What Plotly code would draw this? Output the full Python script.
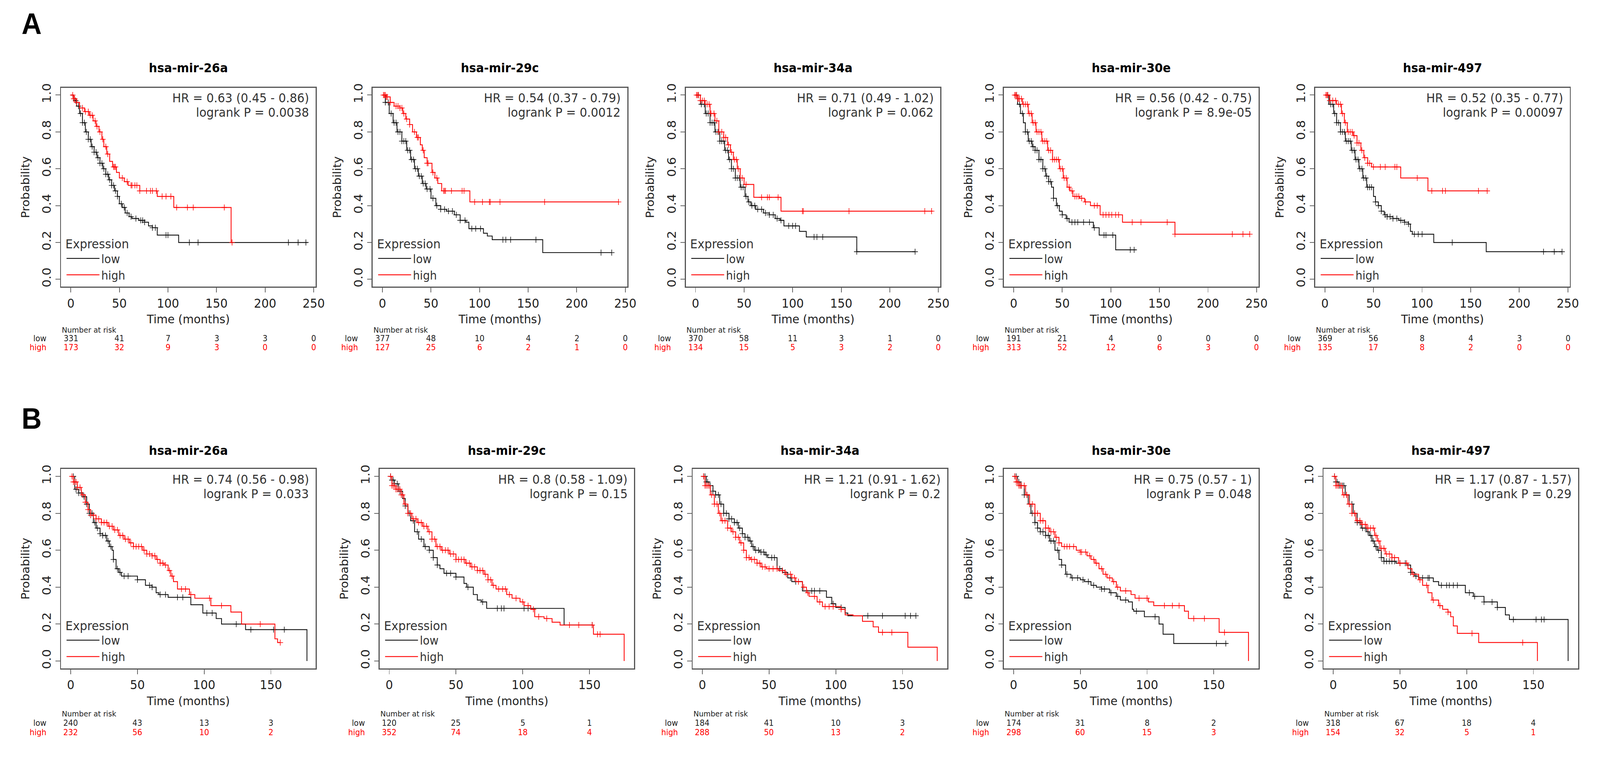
import plotly.graph_objects as go

# ---- figure text ----
MIRNAS = ['hsa-mir-26a', 'hsa-mir-29c', 'hsa-mir-34a', 'hsa-mir-30e', 'hsa-mir-497']
HR_A = ['HR = 0.63 (0.45 - 0.86)', 'HR = 0.54 (0.37 - 0.79)', 'HR = 0.71 (0.49 - 1.02)',
        'HR = 0.56 (0.42 - 0.75)', 'HR = 0.52 (0.35 - 0.77)']
P_A = ['logrank P = 0.0038', 'logrank P = 0.0012', 'logrank P = 0.062',
       'logrank P = 8.9e-05', 'logrank P = 0.00097']
HR_B = ['HR = 0.74 (0.56 - 0.98)', 'HR = 0.8 (0.58 - 1.09)', 'HR = 1.21 (0.91 - 1.62)',
        'HR = 0.75 (0.57 - 1)', 'HR = 1.17 (0.87 - 1.57)']
P_B = ['logrank P = 0.033', 'logrank P = 0.15', 'logrank P = 0.2',
       'logrank P = 0.048', 'logrank P = 0.29']

# ---- number at risk ----
RISK_T_A = [0, 50, 100, 150, 200, 250]
RISK_T_B = [0, 50, 100, 150]
RISK_A_LOW = [[331, 41, 7, 3, 3, 0], [377, 48, 10, 4, 2, 0], [370, 58, 11, 3, 1, 0],
              [191, 21, 4, 0, 0, 0], [369, 56, 8, 4, 3, 0]]
RISK_A_HIGH = [[173, 32, 9, 3, 0, 0], [127, 25, 6, 2, 1, 0], [134, 15, 5, 3, 2, 0],
               [313, 52, 12, 6, 3, 0], [135, 17, 8, 2, 0, 0]]
RISK_B_LOW = [[240, 43, 13, 3], [120, 25, 5, 1], [184, 41, 10, 3], [174, 31, 8, 2], [318, 67, 18, 4]]
RISK_B_HIGH = [[232, 56, 10, 2], [352, 74, 18, 4], [288, 50, 13, 2], [298, 60, 15, 3], [154, 32, 5, 1]]

# ---- survival curves (time in months, probability), censor times ----
A1_LOW_T = [0, 3, 6, 9, 12, 15, 18, 21, 24, 27, 30, 33, 36, 39, 42, 45, 48, 50, 53, 56, 60, 63, 70, 76, 80, 84, 89, 111, 244]
A1_LOW_S = [1, .97, .94, .90, .85, .80, .76, .72, .69, .66, .63, .60, .57, .54, .51, .48, .45, .41, .39, .36, .34, .33, .32, .31, .29, .28, .24, .20, .20]
A1_LOW_C = [5, 8, 10, 12, 14, 16, 18, 20, 22, 24, 26, 28, 30, 32, 34, 36, 38, 40, 42, 44, 46, 48, 52, 55, 58, 62, 67, 72, 74, 76, 84, 87, 98, 100, 122, 131, 224, 234, 242]
A1_HIGH_T = [0, 3, 6, 9, 14, 19, 23, 26, 29, 32, 34, 37, 40, 43, 47, 50, 55, 59, 71, 89, 106, 165, 166]
A1_HIGH_S = [1, .98, .96, .93, .91, .89, .86, .83, .80, .76, .72, .68, .64, .61, .58, .55, .53, .51, .48, .45, .39, .20, .20]
A1_HIGH_C = [2, 3, 4, 6, 12, 15, 18, 20, 22, 25, 27, 30, 33, 36, 38, 44, 45, 46, 53, 58, 62, 63, 66, 68, 71, 78, 82, 84, 88, 94, 98, 103, 109, 120, 126, 158, 166]

A2_LOW_T = [0, 3, 7, 11, 15, 20, 25, 29, 33, 37, 41, 45, 50, 55, 60, 66, 74, 80, 86, 89, 104, 108, 113, 165, 236]
A2_LOW_S = [1, .96, .90, .85, .80, .75, .70, .65, .60, .56, .52, .49, .44, .40, .38, .37, .35, .32, .31, .275, .25, .235, .215, .145, .145]
A2_LOW_C = [3, 6, 9, 12, 14, 16, 18, 20, 22, 24, 26, 28, 30, 32, 34, 36, 38, 40, 42, 44, 46, 49, 52, 56, 60, 64, 68, 72, 76, 80, 85, 92, 96, 101, 124, 127, 132, 158, 225, 236]
A2_HIGH_T = [0, 4, 8, 12, 18, 21, 24, 28, 31, 35, 39, 41, 43, 46, 51, 54, 57, 61, 90, 243]
A2_HIGH_S = [1, .99, .96, .94, .93, .90, .87, .84, .80, .77, .73, .70, .66, .63, .58, .55, .52, .48, .42, .42]
A2_HIGH_C = [1, 2, 3, 4, 5, 8, 14, 16, 18, 20, 22, 25, 28, 33, 36, 37, 42, 46, 47, 52, 56, 63, 64, 65, 71, 82, 84, 95, 103, 110, 111, 121, 167, 243]

A3_LOW_T = [0, 5, 10, 15, 20, 25, 30, 34, 37, 41, 46, 51, 54, 57, 62, 70, 76, 82, 87, 91, 107, 114, 166, 226]
A3_LOW_S = [1, .95, .90, .85, .80, .75, .70, .65, .60, .55, .50, .45, .42, .40, .38, .36, .35, .33, .32, .29, .26, .23, .15, .15]
A3_LOW_C = [3, 6, 9, 11, 13, 15, 17, 19, 21, 23, 25, 27, 29, 31, 33, 35, 37, 39, 41, 43, 45, 47, 49, 52, 55, 58, 61, 64, 68, 72, 76, 80, 84, 88, 96, 100, 103, 122, 125, 131, 166, 226]
A3_HIGH_T = [0, 5, 10, 15, 20, 24, 29, 33, 36, 39, 43, 46, 50, 60, 88, 244]
A3_HIGH_S = [1, .97, .95, .90, .86, .80, .77, .73, .69, .65, .60, .55, .515, .445, .37, .37]
A3_HIGH_C = [1, 2, 3, 5, 7, 9, 12, 14, 16, 19, 22, 24, 27, 29, 31, 34, 37, 40, 42, 44, 48, 52, 68, 74, 76, 85, 110, 111, 158, 236, 243]

A4_LOW_T = [0, 4, 7, 10, 12, 15, 19, 22, 26, 30, 33, 36, 39, 41, 44, 47, 50, 54, 57, 82, 88, 105, 126]
A4_LOW_S = [1, .95, .90, .85, .80, .75, .72, .70, .65, .60, .56, .53, .50, .44, .40, .37, .35, .33, .31, .28, .24, .16, .16]
A4_LOW_C = [3, 6, 9, 12, 14, 16, 18, 20, 22, 24, 26, 28, 30, 32, 34, 36, 38, 41, 45, 50, 55, 60, 63, 66, 72, 78, 83, 93, 95, 102, 120, 124]
A4_HIGH_T = [0, 4, 9, 15, 19, 23, 29, 35, 40, 47, 51, 55, 58, 61, 68, 73, 79, 89, 112, 166, 243]
A4_HIGH_S = [1, .98, .95, .90, .85, .80, .75, .70, .65, .60, .55, .50, .48, .45, .44, .42, .40, .35, .31, .245, .245]
A4_HIGH_C = [1, 2, 3, 4, 5, 6, 8, 10, 12, 14, 16, 18, 20, 22, 24, 26, 28, 30, 32, 34, 36, 38, 40, 42, 44, 46, 48, 50, 52, 54, 57, 60, 63, 65, 67, 70, 74, 83, 86, 92, 95, 98, 101, 105, 108, 122, 131, 158, 166, 225, 236, 243]

A5_LOW_T = [0, 4, 9, 12, 16, 21, 27, 31, 35, 39, 43, 50, 52, 55, 58, 61, 64, 70, 76, 82, 86, 88, 90, 112, 166, 244]
A5_LOW_S = [1, .95, .90, .85, .80, .75, .70, .65, .60, .55, .50, .45, .42, .40, .37, .35, .34, .33, .32, .31, .30, .26, .245, .20, .15, .15]
A5_LOW_C = [3, 6, 8, 10, 12, 14, 16, 18, 20, 22, 24, 26, 28, 30, 32, 34, 36, 38, 40, 42, 44, 46, 48, 52, 55, 58, 62, 64, 67, 70, 74, 78, 82, 86, 92, 96, 100, 131, 225, 236, 244]
A5_HIGH_T = [0, 5, 12, 17, 20, 23, 29, 33, 37, 40, 44, 48, 78, 106, 167]
A5_HIGH_S = [1, .97, .95, .90, .85, .80, .78, .74, .70, .66, .63, .61, .55, .48, .48]
A5_HIGH_C = [1, 2, 3, 5, 8, 11, 14, 16, 18, 21, 24, 26, 28, 30, 33, 35, 38, 41, 44, 46, 50, 57, 62, 72, 74, 95, 110, 121, 124, 158, 167]

B1_LOW_T = [0, 3, 6, 9, 12, 14, 17, 19, 22, 24, 27, 29, 31, 32, 34, 36, 38, 50, 56, 61, 64, 66, 73, 90, 99, 109, 113, 131, 177]
B1_LOW_S = [1, .93, .91, .89, .85, .80, .75, .72, .69, .68, .65, .62, .60, .55, .50, .48, .46, .44, .41, .40, .37, .36, .345, .305, .26, .23, .20, .17, 0]
B1_LOW_C = [2, 4, 6, 8, 10, 12, 14, 16, 18, 20, 22, 24, 26, 28, 30, 32, 35, 37, 40, 43, 50, 59, 61, 67, 71, 80, 84, 102, 106, 124, 135, 152, 160]
B1_HIGH_T = [0, 2, 5, 8, 11, 13, 15, 19, 23, 28, 32, 36, 40, 44, 47, 54, 57, 61, 64, 67, 70, 73, 75, 77, 80, 89, 93, 105, 120, 128, 153, 155, 157]
B1_HIGH_S = [1, .97, .94, .90, .86, .82, .79, .77, .75, .73, .71, .68, .66, .64, .62, .60, .58, .57, .55, .53, .52, .49, .46, .43, .39, .36, .34, .30, .265, .20, .12, .10, .10]
B1_HIGH_C = [1, 2, 3, 4, 5, 7, 9, 11, 13, 15, 17, 19, 21, 23, 25, 27, 29, 31, 33, 35, 37, 39, 41, 43, 45, 47, 49, 51, 53, 55, 57, 59, 61, 63, 65, 67, 69, 71, 74, 76, 83, 86, 90, 104, 113, 142, 157]

B2_LOW_T = [0, 2, 4, 7, 10, 12, 14, 16, 19, 22, 26, 30, 33, 36, 38, 41, 50, 56, 58, 63, 66, 69, 73, 131, 152]
B2_LOW_S = [1, .98, .96, .92, .88, .84, .80, .76, .70, .66, .62, .60, .56, .52, .50, .475, .455, .42, .40, .36, .33, .32, .285, .195, .195]
B2_LOW_C = [1, 2, 3, 4, 6, 8, 12, 15, 18, 21, 24, 27, 30, 33, 36, 43, 46, 50, 59, 70, 81, 84, 86, 101, 104, 152]
B2_HIGH_T = [0, 2, 5, 9, 11, 14, 17, 21, 25, 29, 32, 35, 39, 45, 50, 57, 61, 66, 71, 74, 77, 80, 88, 92, 98, 101, 106, 109, 116, 122, 128, 153, 176]
B2_HIGH_S = [1, .95, .93, .90, .85, .80, .77, .75, .73, .70, .66, .62, .60, .58, .55, .53, .51, .49, .47, .44, .41, .39, .36, .34, .32, .30, .28, .24, .23, .21, .195, .145, 0]
B2_HIGH_C = [1, 2, 3, 4, 5, 6, 7, 8, 9, 10, 12, 14, 16, 18, 20, 22, 24, 26, 28, 30, 32, 34, 36, 38, 40, 42, 44, 46, 48, 50, 52, 54, 56, 58, 60, 62, 64, 66, 68, 70, 72, 74, 76, 78, 82, 85, 87, 90, 95, 100, 104, 108, 112, 118, 135, 142, 152, 156, 158]

B3_LOW_T = [0, 3, 5, 8, 10, 13, 16, 20, 24, 27, 30, 32, 35, 37, 39, 43, 47, 49, 56, 60, 64, 67, 75, 93, 97, 100, 107, 109, 160]
B3_LOW_S = [1, .97, .95, .92, .90, .85, .80, .77, .75, .72, .69, .67, .65, .62, .60, .59, .575, .56, .50, .48, .45, .43, .38, .345, .31, .29, .26, .245, .245]
B3_LOW_C = [1, 2, 3, 4, 6, 8, 10, 12, 14, 16, 18, 20, 22, 24, 26, 28, 30, 32, 34, 36, 38, 40, 42, 44, 46, 48, 52, 54, 58, 62, 66, 70, 82, 84, 88, 98, 104, 124, 135, 152, 156, 160]
B3_HIGH_T = [0, 2, 6, 9, 12, 14, 19, 22, 25, 28, 31, 33, 36, 41, 44, 48, 57, 62, 67, 70, 75, 78, 80, 86, 90, 104, 107, 113, 120, 128, 132, 154, 176]
B3_HIGH_S = [1, .95, .90, .85, .80, .76, .72, .70, .67, .64, .60, .56, .55, .53, .51, .50, .49, .47, .45, .43, .40, .37, .35, .32, .295, .28, .25, .245, .215, .185, .155, .075, 0]
B3_HIGH_C = [1, 2, 3, 4, 5, 7, 9, 11, 13, 15, 17, 19, 21, 23, 25, 27, 29, 31, 33, 35, 37, 39, 41, 43, 45, 47, 50, 53, 56, 60, 63, 66, 69, 72, 76, 79, 84, 88, 92, 95, 98, 104, 135, 142]

B4_LOW_T = [0, 3, 5, 8, 11, 13, 16, 18, 20, 24, 27, 31, 34, 36, 39, 43, 50, 53, 58, 62, 66, 72, 77, 80, 86, 89, 90, 98, 109, 112, 120, 160]
B4_LOW_S = [1, .97, .95, .90, .85, .80, .75, .72, .70, .68, .65, .60, .55, .52, .47, .45, .44, .43, .41, .40, .39, .37, .35, .33, .32, .28, .27, .24, .20, .145, .095, .095]
B4_LOW_C = [1, 2, 3, 4, 5, 6, 8, 10, 12, 14, 16, 18, 20, 22, 24, 26, 28, 30, 33, 36, 40, 44, 48, 52, 56, 60, 66, 68, 73, 78, 84, 92, 106, 152, 159]
B4_HIGH_T = [0, 2, 4, 9, 12, 16, 20, 24, 27, 31, 34, 36, 47, 50, 55, 58, 61, 64, 67, 70, 74, 77, 80, 88, 91, 101, 105, 128, 131, 154, 176]
B4_HIGH_S = [1, .97, .95, .90, .85, .80, .76, .72, .70, .67, .64, .62, .60, .59, .57, .55, .53, .50, .47, .45, .43, .40, .38, .36, .34, .32, .30, .27, .23, .155, 0]
B4_HIGH_C = [1, 2, 3, 4, 5, 6, 8, 10, 12, 14, 16, 18, 20, 22, 24, 26, 28, 30, 32, 34, 38, 40, 42, 45, 50, 51, 54, 57, 60, 62, 66, 69, 72, 75, 78, 84, 94, 100, 113, 119, 124, 135, 143, 158]

B5_LOW_T = [0, 2, 4, 9, 12, 15, 18, 21, 25, 27, 29, 31, 33, 36, 38, 47, 55, 58, 61, 64, 75, 79, 99, 105, 113, 123, 129, 132, 176]
B5_LOW_S = [1, .97, .95, .90, .85, .80, .75, .72, .70, .68, .65, .62, .60, .56, .54, .53, .52, .48, .46, .45, .43, .41, .37, .35, .32, .29, .25, .225, 0]
B5_LOW_C = [1, 2, 3, 4, 5, 6, 7, 8, 10, 12, 14, 16, 18, 20, 22, 24, 26, 28, 30, 32, 34, 36, 38, 40, 42, 44, 46, 50, 54, 58, 62, 67, 71, 72, 81, 85, 87, 90, 93, 102, 106, 113, 119, 123, 135, 152, 156, 158]
B5_HIGH_T = [0, 2, 7, 11, 14, 17, 21, 25, 31, 33, 35, 39, 44, 49, 56, 59, 64, 67, 71, 74, 79, 82, 86, 88, 90, 93, 109, 153]
B5_HIGH_S = [1, .95, .90, .85, .80, .76, .74, .72, .68, .65, .61, .58, .56, .53, .50, .47, .44, .41, .37, .33, .30, .28, .265, .24, .19, .15, .10, 0]
B5_HIGH_C = [1, 2, 3, 4, 6, 8, 10, 12, 14, 16, 18, 20, 22, 24, 26, 28, 30, 32, 34, 36, 38, 40, 42, 44, 46, 50, 55, 60, 65, 70, 75, 80, 86, 104, 142]

W, H = 4375, 2008
FONT = 'DejaVu Sans'
TXT = '#222222'
GREY_TXT = '#333333'
RED = '#ff0000'
BOX_W = 700

panels = [
    dict(low=(A1_LOW_T, A1_LOW_S, A1_LOW_C), high=(A1_HIGH_T, A1_HIGH_S, A1_HIGH_C)),
    dict(low=(A2_LOW_T, A2_LOW_S, A2_LOW_C), high=(A2_HIGH_T, A2_HIGH_S, A2_HIGH_C)),
    dict(low=(A3_LOW_T, A3_LOW_S, A3_LOW_C), high=(A3_HIGH_T, A3_HIGH_S, A3_HIGH_C)),
    dict(low=(A4_LOW_T, A4_LOW_S, A4_LOW_C), high=(A4_HIGH_T, A4_HIGH_S, A4_HIGH_C)),
    dict(low=(A5_LOW_T, A5_LOW_S, A5_LOW_C), high=(A5_HIGH_T, A5_HIGH_S, A5_HIGH_C)),
    dict(low=(B1_LOW_T, B1_LOW_S, B1_LOW_C), high=(B1_HIGH_T, B1_HIGH_S, B1_HIGH_C)),
    dict(low=(B2_LOW_T, B2_LOW_S, B2_LOW_C), high=(B2_HIGH_T, B2_HIGH_S, B2_HIGH_C)),
    dict(low=(B3_LOW_T, B3_LOW_S, B3_LOW_C), high=(B3_HIGH_T, B3_HIGH_S, B3_HIGH_C)),
    dict(low=(B4_LOW_T, B4_LOW_S, B4_LOW_C), high=(B4_HIGH_T, B4_HIGH_S, B4_HIGH_C)),
    dict(low=(B5_LOW_T, B5_LOW_S, B5_LOW_C), high=(B5_HIGH_T, B5_HIGH_S, B5_HIGH_C)),
]
for k in range(5):
    panels[k].update(left=[168, 1025, 1886, 2761, 3617][k], top=215, bottom=728, title_y=164,
                     xrange=[-10, 252], risk_t=RISK_T_A, risk_low=RISK_A_LOW[k],
                     risk_high=RISK_A_HIGH[k], title=MIRNAS[k], hr=HR_A[k], p=P_A[k],
                     risk_dy=(111, 134, 157))
    panels[k + 5].update(left=[168, 1044, 1905, 2761, 3640][k], top=1198, bottom=1712, title_y=1150,
                         xrange=[-7.2, 183.5], risk_t=RISK_T_B, risk_low=RISK_B_LOW[k],
                         risk_high=RISK_B_HIGH[k], title=MIRNAS[k], hr=HR_B[k], p=P_B[k],
                         risk_dy=(117, 141, 165))


def fx(x):
    return x / W


def fy(y):
    return 1 - y / H


def surv_at(ts, ss, t):
    s = ss[0]
    for ti, si in zip(ts, ss):
        if ti <= t:
            s = si
    return s


def label(x, y, text, size, color, xanchor='center', xref='paper', family=FONT):
    return dict(x=x, y=y, xref=xref, yref='paper', text=text, showarrow=False,
                xanchor=xanchor, yanchor='middle', font=dict(family=family, size=size, color=color))


fig = go.Figure()
layout = {}
annotations = []

for i, p in enumerate(panels):
    n = i + 1
    sfx = '' if n == 1 else str(n)
    xa, ya, lg = 'x' + sfx, 'y' + sfx, 'legend' + sfx
    left, right = p['left'], p['left'] + BOX_W
    top, bottom = p['top'], p['bottom']

    for name, color in (('low', '#111111'), ('high', RED)):
        ts, ss, cs = p[name]
        fig.add_trace(go.Scatter(x=ts, y=ss, mode='lines', line=dict(color=color, width=2.2, shape='hv'),
                                 name=name, legend=lg, xaxis=xa, yaxis=ya, hoverinfo='skip'))
        fig.add_trace(go.Scatter(x=cs, y=[surv_at(ts, ss, c) for c in cs], mode='markers',
                                 marker=dict(symbol='cross-thin', size=11, line=dict(width=1.6, color=color)),
                                 showlegend=False, xaxis=xa, yaxis=ya, hoverinfo='skip'))

    layout['xaxis' + sfx] = dict(
        domain=[fx(left), fx(right)], anchor=ya, range=p['xrange'], tickvals=p['risk_t'],
        ticks='outside', ticklen=12, tickwidth=2, tickcolor='#666', showline=True, mirror=True,
        linecolor='#555', linewidth=3, showgrid=False, zeroline=False,
        tickfont=dict(family=FONT, size=32, color=TXT),
        title=dict(text='Time (months)', font=dict(family=FONT, size=31, color=TXT), standoff=12))
    layout['yaxis' + sfx] = dict(
        domain=[fy(bottom), fy(top)], anchor=xa, range=[-0.04, 1.04],
        tickvals=[0, 0.2, 0.4, 0.6, 0.8, 1.0], ticktext=['0.0', '0.2', '0.4', '0.6', '0.8', '1.0'],
        tickangle=-90, ticks='outside', ticklen=12, tickwidth=2, tickcolor='#666', showline=True,
        mirror=True, linecolor='#555', linewidth=3, showgrid=False, zeroline=False,
        tickfont=dict(family=FONT, size=32, color=TXT),
        title=dict(text='Probability', font=dict(family=FONT, size=30, color=TXT), standoff=20))
    layout[lg] = dict(
        x=fx(left + 10), y=fy(bottom - 4), xanchor='left', yanchor='bottom', bgcolor='rgba(0,0,0,0)',
        title=dict(text='Expression', font=dict(family=FONT, size=32, color=GREY_TXT)),
        font=dict(family=FONT, size=30, color=GREY_TXT), itemwidth=90, tracegroupgap=0)

    annotations.append(label(fx((left + right) / 2), fy(p['title_y']), '<b>' + p['title'] + '</b>', 32, '#000'))
    annotations.append(label(fx(right - 16), fy(top + 27), p['hr'], 32, GREY_TXT, xanchor='right'))
    annotations.append(label(fx(right - 16), fy(top + 64), p['p'], 32, GREY_TXT, xanchor='right'))

    # number at risk table
    d_nar, d_low, d_high = p['risk_dy']
    annotations.append(label(fx(left), fy(bottom + d_nar), 'Number at risk', 20, TXT, xanchor='left'))
    for lab, row, dy, col in (('low', p['risk_low'], d_low, TXT), ('high', p['risk_high'], d_high, RED)):
        annotations.append(label(fx(left - 38), fy(bottom + dy), lab, 21, col, xanchor='right'))
        for t, v in zip(p['risk_t'], row):
            annotations.append(label(t, fy(bottom + dy), str(v), 21, col, xref=xa))

for lab, y in (('A', 50), ('B', 1067)):
    annotations.append(label(fx(87), fy(y), '<b>' + lab + '</b>', 76, '#000', family='Liberation Sans'))

fig.update_layout(width=W, height=H, margin=dict(l=0, r=0, t=0, b=0), paper_bgcolor='white',
                  plot_bgcolor='white', annotations=annotations, **layout)

# stretch the fixed-size figure so it fills the browser viewport exactly
fit_js = (
    "var gd=document.getElementById('{plot_id}');"
    "document.body.style.margin='0';document.body.style.overflow='hidden';"
    "var sx=window.innerWidth/%d, sy=window.innerHeight/%d;"
    "gd.style.transformOrigin='0 0';gd.style.transform='scale('+sx+','+sy+')';" % (W, H)
)
fig.write_html('out.html', post_script=fit_js, config={'displayModeBar': False})
